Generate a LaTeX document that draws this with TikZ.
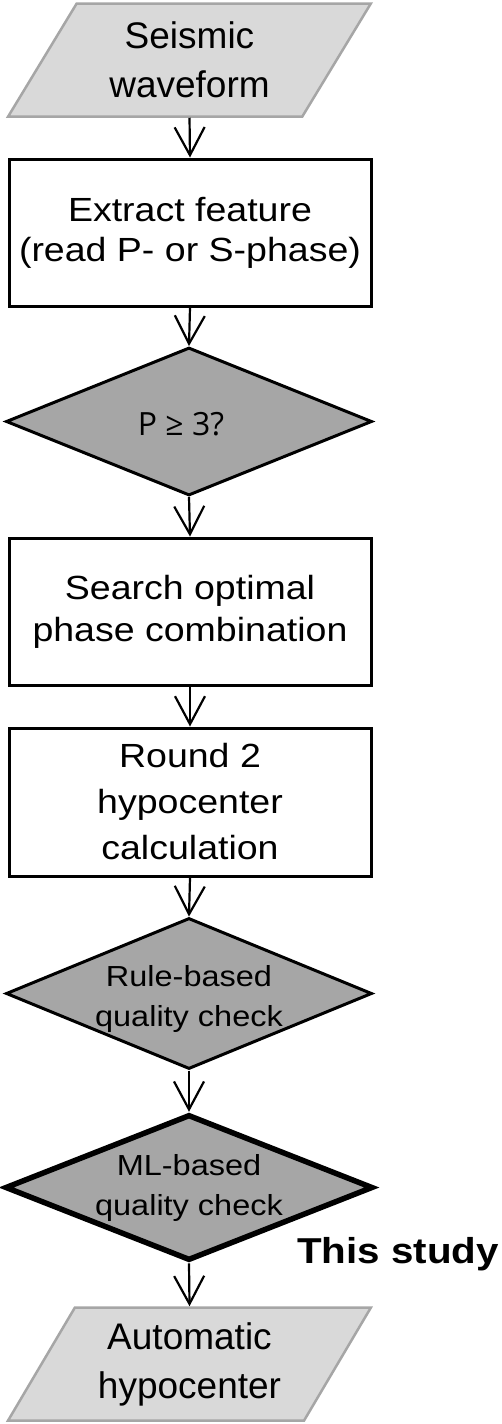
\documentclass[tikz,border=0pt]{standalone}
\usepackage{fontspec}
\setmainfont{Liberation Sans}
\newfontfamily\boxfont[FakeStretch=1.12]{Liberation Sans}
\newfontfamily\parfont{Liberation Sans}
\newfontfamily\condfont{Open Sans}
\usetikzlibrary{shapes.geometric,arrows.meta}
\definecolor{lightfill}{HTML}{D9D9D9}
\definecolor{lightborder}{HTML}{A6A6A6}
\definecolor{darkfill}{HTML}{A6A6A6}
\tikzset{
  iobox/.style={trapezium, trapezium left angle=57.4, trapezium right angle=122.6,
    trapezium stretches=true, minimum width=363pt, minimum height=113pt,
    fill=lightfill, draw=lightborder, line width=2.5pt, inner sep=0pt, align=center,
    font=\parfont\fontsize{37}{49}\selectfont},
  procbox/.style={rectangle, minimum width=362pt, minimum height=147pt, draw=black,
    line width=3pt, fill=white, inner sep=0pt, align=center,
    font=\boxfont\fontsize{33.5}{40}\selectfont},
  decbox/.style={diamond, aspect=2.45, minimum width=366pt, minimum height=148pt, draw=black,
    line width=3pt, fill=darkfill, inner sep=0pt},
  dectext/.style={align=center, inner sep=0pt, font=\boxfont\fontsize{29}{40}\selectfont},
  flow/.style={line width=2.2pt, -{Straight Barb[length=28pt,width=30pt]}}
}
\begin{document}
\begin{tikzpicture}[x=1pt,y=-1pt]
\useasboundingbox (0,0) rectangle (502,1424);
\node[iobox] (wave) at (189.5,60) {Seismic\\waveform};
\node[procbox] (extract) at (190,232.5) {Extract feature\\(read P- or S-phase)};
\node[decbox, label={[inner sep=0pt, font=\condfont\fontsize{32}{38}\selectfont, xshift=-8pt, yshift=-3pt]center:P ≥ 3?}] (pcheck) at (189,421.5) {};
\node[procbox, font=\boxfont\fontsize{33.5}{42}\selectfont] (search) at (190,611.5) {Search optimal\\phase combination};
\node[procbox, minimum height=148pt, font=\boxfont\fontsize{33.5}{46}\selectfont] (round) at (190,802) {Round 2\\hypocenter\\calculation};
\node[decbox, minimum height=151pt, label={[dectext, yshift=-5pt]center:Rule-based\\quality check}] (rule) at (189,993.5) {};
\node[decbox, minimum width=368pt, minimum height=146pt, line width=5.5pt, label={[dectext, yshift=0pt]center:ML-based\\quality check}] (ml) at (189,1187.5) {};
\node[iobox] (auto) at (189.5,1364) {Automatic\\hypocenter};
\node[anchor=base east, inner sep=0pt, font=\boxfont\bfseries\fontsize{36}{40}\selectfont] (study) at (499,1263) {This study};
\draw[flow] (wave.south) -- (extract.north);
\draw[flow] (extract.south) -- (pcheck.north);
\draw[flow] (pcheck.south) -- (search.north);
\draw[flow] (search.south) -- (round.north);
\draw[flow] (round.south) -- (rule.north);
\draw[flow] (rule.south) -- (ml.north);
\draw[flow] (ml.south) -- (auto.north);
\end{tikzpicture}
\end{document}
